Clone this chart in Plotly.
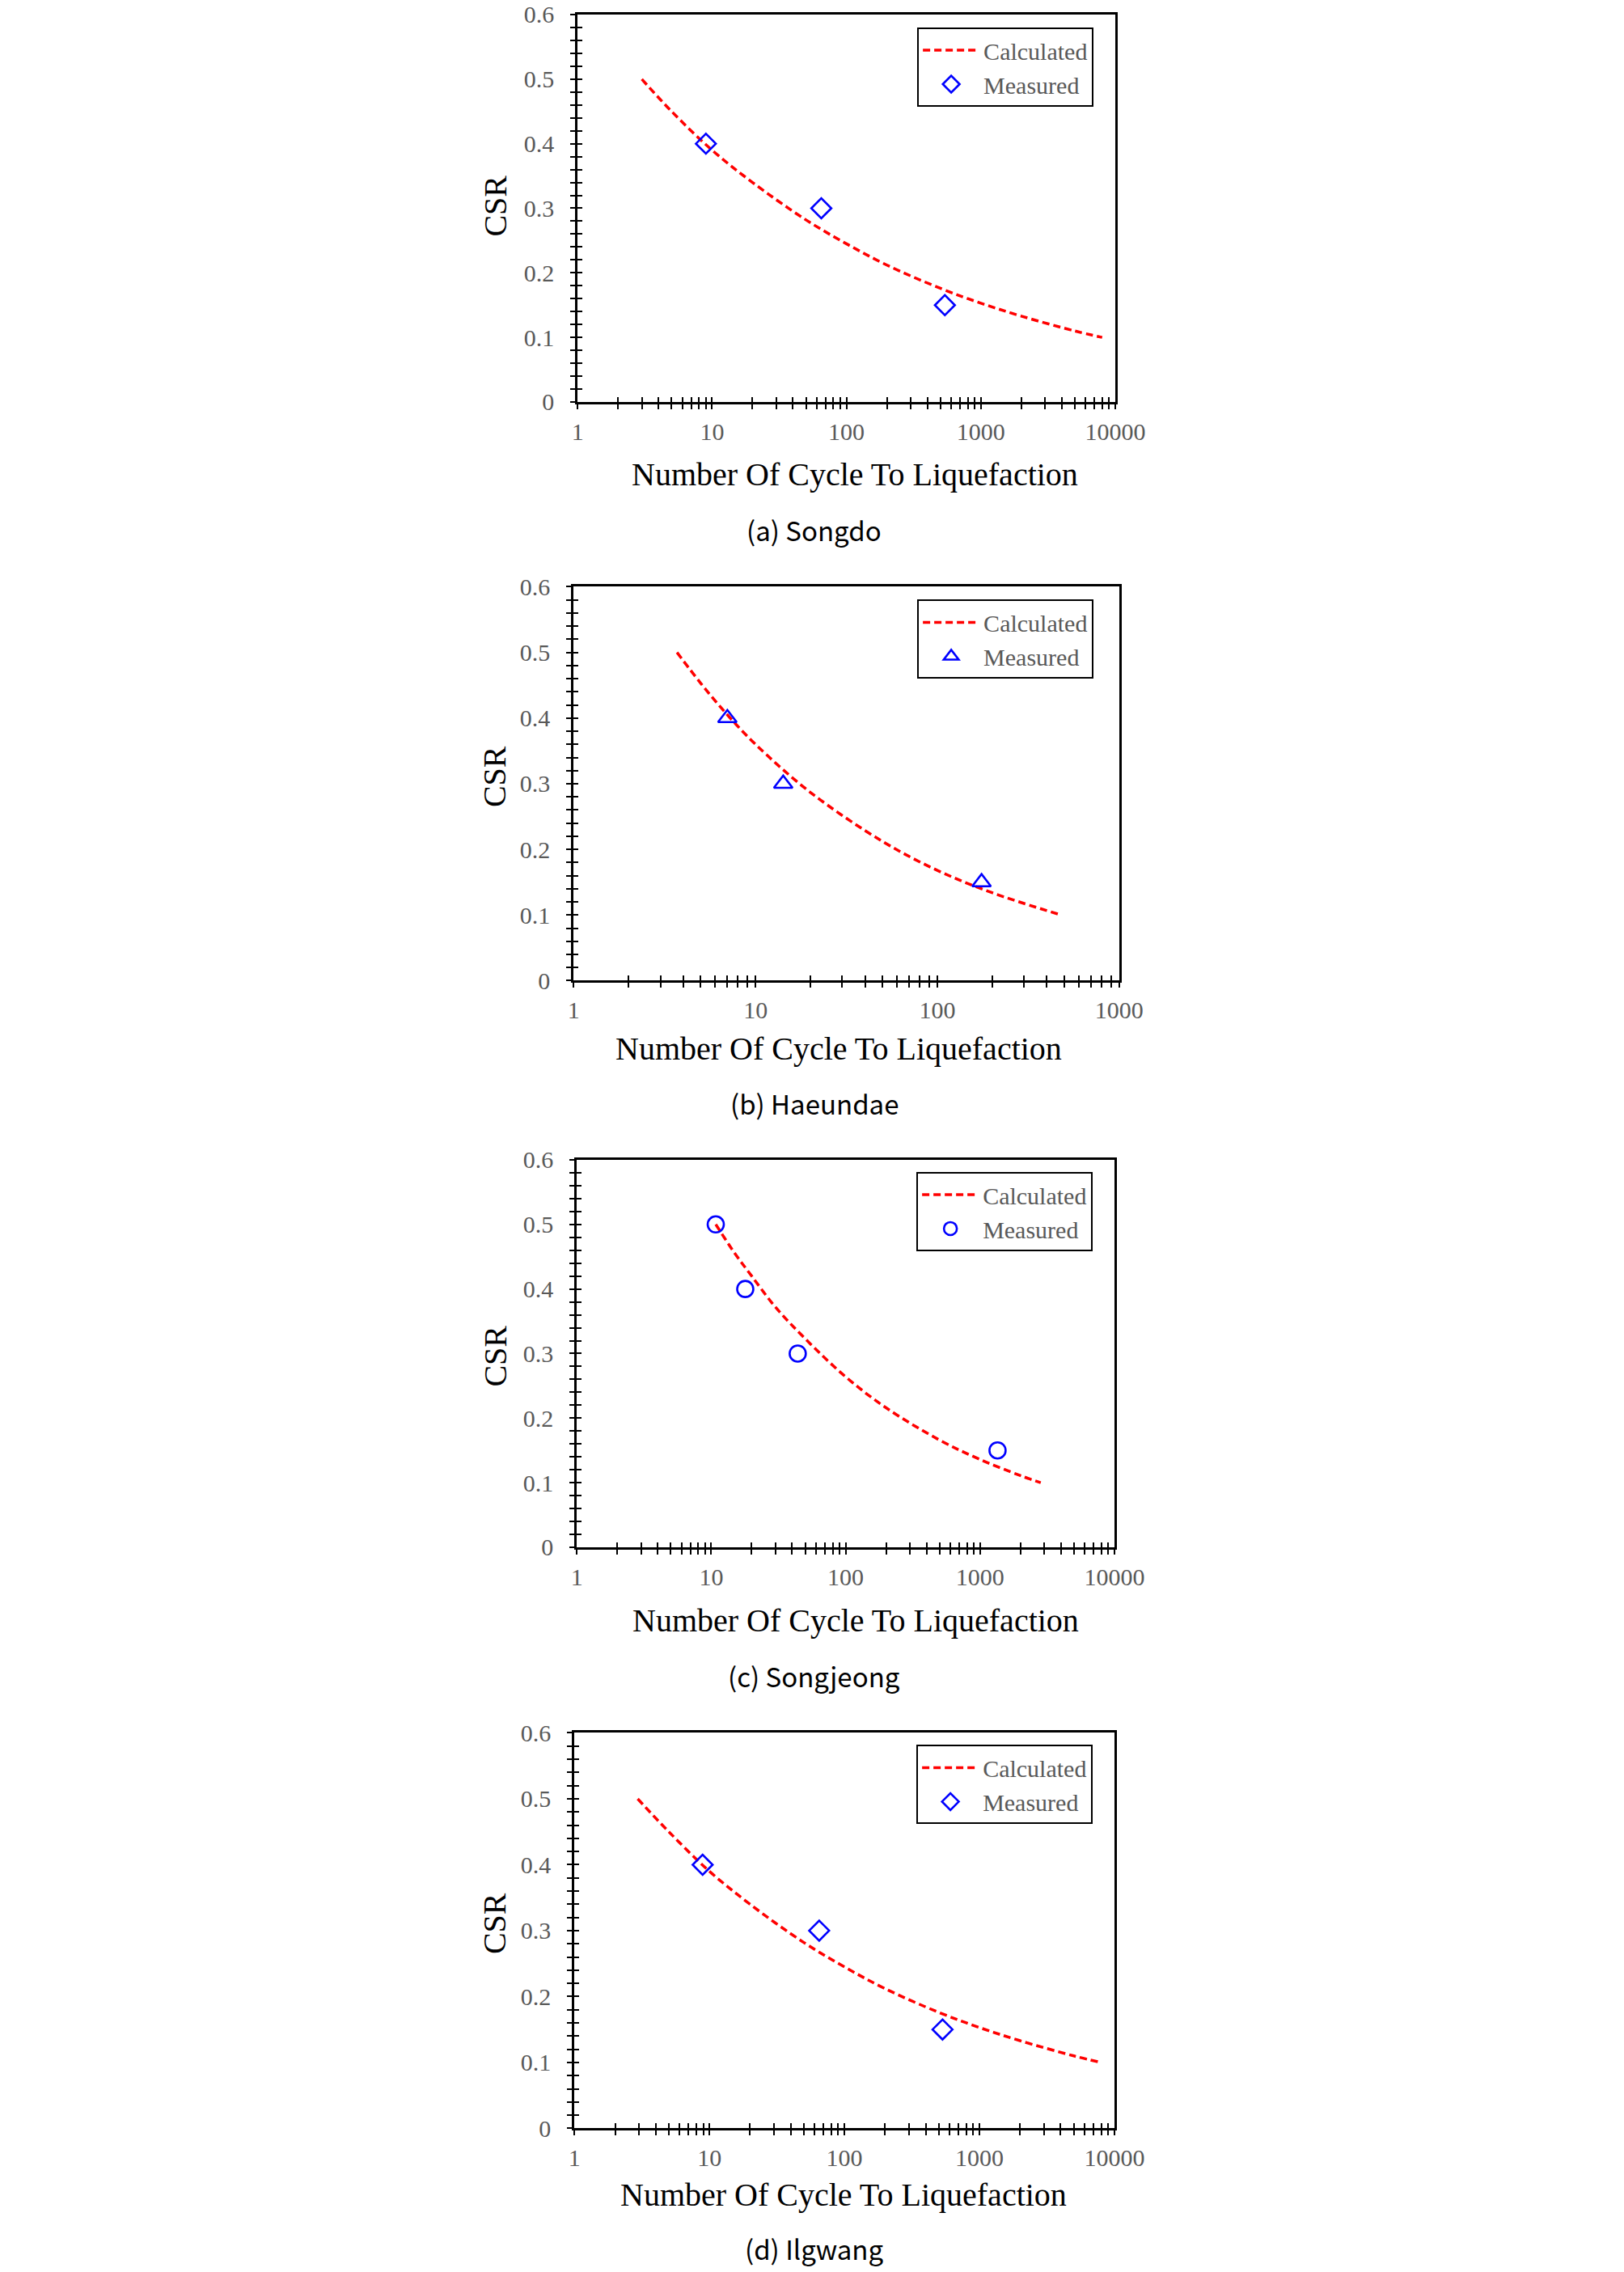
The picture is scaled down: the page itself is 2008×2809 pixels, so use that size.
import plotly.graph_objects as go

# ---------------- data ----------------
songdo_curve_n = [3, 5, 10, 20, 50, 100, 200, 500, 1000, 2000, 5000, 8000]
songdo_curve_csr = [0.50, 0.45, 0.39, 0.34, 0.282, 0.245, 0.212, 0.176, 0.153, 0.133, 0.110, 0.100]
songdo_meas_n = [9, 65, 540]
songdo_meas_csr = [0.40, 0.30, 0.15]

haeundae_curve_n = [3.7, 5, 7, 10, 20, 50, 100, 200, 480]
haeundae_curve_csr = [0.50, 0.453, 0.405, 0.36, 0.287, 0.212, 0.168, 0.134, 0.10]
haeundae_meas_n = [7, 14.2, 175]
haeundae_meas_csr = [0.40, 0.30, 0.15]

songjeong_curve_n = [10.8, 15, 20, 30, 50, 100, 200, 500, 1000, 2000, 2830]
songjeong_curve_csr = [0.50, 0.455, 0.42, 0.372, 0.323, 0.264, 0.216, 0.166, 0.136, 0.111, 0.10]
songjeong_meas_n = [10.8, 17.9, 44, 1350]
songjeong_meas_csr = [0.50, 0.40, 0.30, 0.15]

ilgwang_curve_n = [2.94, 5, 10, 20, 50, 100, 200, 500, 1000, 2000, 5000, 7940]
ilgwang_curve_csr = [0.50, 0.45, 0.39, 0.34, 0.282, 0.245, 0.212, 0.176, 0.153, 0.133, 0.110, 0.100]
ilgwang_meas_n = [8.9, 65, 533]
ilgwang_meas_csr = [0.40, 0.30, 0.15]

y_tick_vals = [0, 0.1, 0.2, 0.3, 0.4, 0.5, 0.6]
y_tick_text = ["0", "0.1", "0.2", "0.3", "0.4", "0.5", "0.6"]
x_decades_4 = [1, 10, 100, 1000, 10000]
x_decades_3 = [1, 10, 100, 1000]
x_mantissas = [1, 2, 3, 4, 5, 6, 7, 8, 9]

series_names = ["Calculated", "Measured"]
x_title = "Number Of Cycle To Liquefaction"
y_title = "CSR"
captions = ["(a) Songdo", "(b) Haeundae", "(c) Songjeong", "(d) Ilgwang"]

# ---------------- layout constants ----------------
W, H = 2008, 2809
# calibration observed between requested and photographed positions
SX, SY, OY = 0.985, 0.990, 13.0


def px(x):
    return (x / SX) / W


def py(y):
    return 1 - ((y - OY) / SY) / H


panels = [
    dict(cn=songdo_curve_n, cc=songdo_curve_csr, mn=songdo_meas_n, mc=songdo_meas_csr,
         sym="diamond-open", msize=19, decades=x_decades_4,
         box=(712, 1382, 14, 494), leg=(1355, 30), xt=(1057, 584), yt=(609, 251), cap=(1007, 652)),
    dict(cn=haeundae_curve_n, cc=haeundae_curve_csr, mn=haeundae_meas_n, mc=haeundae_meas_csr,
         sym="triangle-up-open", msize=20, decades=x_decades_3,
         box=(707, 1387, 723, 1211), leg=(1355, 739), xt=(1037, 1295), yt=(609, 958), cap=(1007, 1363)),
    dict(cn=songjeong_curve_n, cc=songjeong_curve_csr, mn=songjeong_meas_n, mc=songjeong_meas_csr,
         sym="circle-open", msize=20, decades=x_decades_4,
         box=(711, 1381, 1433, 1913), leg=(1354, 1448), xt=(1058, 2004), yt=(609, 1676), cap=(1007, 2072)),
    dict(cn=ilgwang_curve_n, cc=ilgwang_curve_csr, mn=ilgwang_meas_n, mc=ilgwang_meas_csr,
         sym="diamond-open", msize=19, decades=x_decades_4,
         box=(708, 1381, 2143, 2633), leg=(1354, 2158), xt=(1043, 2715), yt=(609, 2379), cap=(1007, 2782)),
]

SERIF = "Liberation Serif, Times New Roman, serif"
TICK_GRAY = "#595959"
RED = "#ff0000"
BLUE = "#0000ff"

fig = go.Figure()
layout = dict(width=W, height=H, margin=dict(l=0, r=0, t=0, b=0),
              paper_bgcolor="white", plot_bgcolor="white", showlegend=True)
annotations = []

for i, p in enumerate(panels, start=1):
    sfx = "" if i == 1 else str(i)
    leg_id = "legend" if i == 1 else f"legend{i}"
    xref, yref = f"x{sfx}", f"y{sfx}"

    fig.add_trace(go.Scatter(
        x=p["cn"], y=p["cc"], mode="lines", name=series_names[0],
        line=dict(color=RED, width=3.5, dash="9px,5px", shape="spline"),
        xaxis=xref, yaxis=yref, legend=leg_id))
    fig.add_trace(go.Scatter(
        x=p["mn"], y=p["mc"], mode="markers", name=series_names[1],
        marker=dict(symbol=p["sym"], size=p["msize"], color=BLUE, line=dict(width=2.6, color=BLUE)),
        xaxis=xref, yaxis=yref, legend=leg_id))

    decades = p["decades"]
    xvals = []
    xtext = []
    for d in decades[:-1]:
        for m in x_mantissas:
            xvals.append(d * m)
            xtext.append(str(d) if m == 1 else "")
    xvals.append(decades[-1])
    xtext.append(str(decades[-1]))
    xrange = [0, len(decades) - 1]

    x0, x1, y0, y1 = p["box"]
    xdom = [px(x0), px(x1)]
    ydom = [py(y1), py(y0)]

    layout[f"xaxis{sfx}"] = dict(
        domain=xdom, anchor=yref, type="log", range=xrange,
        tickmode="array", tickvals=xvals, ticktext=xtext,
        ticks="outside", ticklen=6, tickwidth=2, tickcolor="black",
        showline=True, linewidth=3, linecolor="black", mirror=True,
        showgrid=False, zeroline=False, ticklabelstandoff=2,
        tickfont=dict(family=SERIF, size=30, color=TICK_GRAY))
    layout[f"yaxis{sfx}"] = dict(
        domain=ydom, anchor=xref, range=[0, 0.6],
        tickmode="array", tickvals=y_tick_vals, ticktext=y_tick_text,
        ticks="outside", ticklen=6, tickwidth=2, tickcolor="black",
        minor=dict(dtick=0.02, ticks="outside", ticklen=6, tickwidth=2, tickcolor="black", showgrid=False),
        showline=True, linewidth=3, linecolor="black", mirror=True,
        showgrid=False, zeroline=False, ticklabelstandoff=14,
        tickfont=dict(family=SERIF, size=30, color=TICK_GRAY))
    # overlay axes: inside halves of the crossing ticks
    j = i + 4
    layout[f"xaxis{j}"] = dict(
        overlaying=xref, anchor=yref, side="bottom", type="log", range=xrange,
        tickmode="array", tickvals=xvals, ticktext=[""] * len(xvals),
        ticks="inside", ticklen=6, tickwidth=2, tickcolor="black",
        showticklabels=False, showline=False, showgrid=False, zeroline=False)
    layout[f"yaxis{j}"] = dict(
        overlaying=yref, anchor=xref, side="left", range=[0, 0.6],
        tickmode="array", tickvals=y_tick_vals,
        ticks="inside", ticklen=6, tickwidth=2, tickcolor="black",
        minor=dict(dtick=0.02, ticks="inside", ticklen=6, tickwidth=2, tickcolor="black", showgrid=False),
        showticklabels=False, showline=False, showgrid=False, zeroline=False)
    fig.add_trace(go.Scatter(x=[], y=[], xaxis=f"x{j}", yaxis=f"y{j}", showlegend=False,
                             hoverinfo="skip"))

    lx, ly = p["leg"]
    layout[leg_id] = dict(
        x=px(lx), xanchor="right", y=py(ly), yanchor="top",
        bgcolor="white", bordercolor="black", borderwidth=2,
        font=dict(family=SERIF, size=30, color=TICK_GRAY),
        itemwidth=70, tracegroupgap=0)

    annotations.append(dict(
        text=x_title, x=px(p["xt"][0]), y=py(p["xt"][1]), xref="paper", yref="paper",
        showarrow=False, xanchor="center", yanchor="middle",
        font=dict(family=SERIF, size=40, color="black")))
    annotations.append(dict(
        text=y_title, x=px(p["yt"][0]), y=py(p["yt"][1]), xref="paper", yref="paper",
        showarrow=False, xanchor="center", yanchor="middle", textangle=-90,
        font=dict(family=SERIF, size=40, color="black")))
    annotations.append(dict(
        text=captions[i - 1], x=px(p["cap"][0]), y=py(p["cap"][1]), xref="paper", yref="paper",
        showarrow=False, xanchor="center", yanchor="middle",
        font=dict(family="Noto Sans CJK KR, Noto Sans, sans-serif", size=33, color="black")))

layout["annotations"] = annotations
fig.update_layout(**layout)
fig.write_html("out.html")
